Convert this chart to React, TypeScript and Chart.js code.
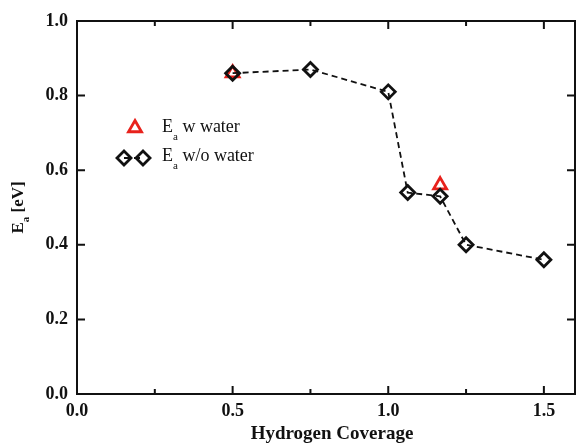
import React, { useEffect, useRef } from 'react';
import { Chart, registerables } from 'chart.js';
Chart.register(...registerables);

const coverageNoWater = [0.5, 0.75, 1.0, 1.0625, 1.1667, 1.25, 1.5];
const eaNoWater = [0.86, 0.87, 0.81, 0.54, 0.53, 0.4, 0.36];
const coverageWater = [0.5, 1.1667];
const eaWater = [0.86, 0.56];
const xMajorTicks = [0.0, 0.5, 1.0, 1.5];
const xMinorTicks = [0.25, 0.75, 1.25];
const yTicks = [0.0, 0.2, 0.4, 0.6, 0.8, 1.0];
const xTitle = 'Hydrogen Coverage';
const legendLabels = ['w water', 'w/o water'];

const FONT = '"Liberation Serif", "Times New Roman", serif';
const RED = '#e8221c';

function drawDiamond(ctx: CanvasRenderingContext2D, x: number, y: number, r: number) {
  ctx.beginPath();
  ctx.moveTo(x, y - r);
  ctx.lineTo(x + r, y);
  ctx.lineTo(x, y + r);
  ctx.lineTo(x - r, y);
  ctx.closePath();
  ctx.stroke();
}
function drawTriangle(ctx: CanvasRenderingContext2D, x: number, y: number, r: number) {
  ctx.beginPath();
  for (let i = 0; i < 3; i++) {
    const a = (i * 2 * Math.PI) / 3;
    const px = x + Math.sin(a) * r;
    const py = y - Math.cos(a) * r;
    if (i === 0) ctx.moveTo(px, py);
    else ctx.lineTo(px, py);
  }
  ctx.closePath();
  ctx.stroke();
}

const framePlugin = {
  id: 'frame',
  afterDraw(chart: any) {
    const ctx: CanvasRenderingContext2D = chart.ctx;
    const { left, right, top, bottom } = chart.chartArea;
    const xs = chart.scales.x;
    const ys = chart.scales.y;
    ctx.save();
    ctx.strokeStyle = '#111';
    ctx.lineWidth = 2;
    ctx.strokeRect(left, top, right - left, bottom - top);
    ctx.beginPath();
    xMajorTicks.forEach((v) => {
      const px = xs.getPixelForValue(v);
      ctx.moveTo(px, bottom); ctx.lineTo(px, bottom - 8);
      ctx.moveTo(px, top); ctx.lineTo(px, top + 8);
    });
    xMinorTicks.forEach((v) => {
      const px = xs.getPixelForValue(v);
      ctx.moveTo(px, bottom); ctx.lineTo(px, bottom - 5);
      ctx.moveTo(px, top); ctx.lineTo(px, top + 5);
    });
    yTicks.forEach((v) => {
      const py = ys.getPixelForValue(v);
      ctx.moveTo(left, py); ctx.lineTo(left + 8, py);
      ctx.moveTo(right, py); ctx.lineTo(right - 8, py);
    });
    ctx.stroke();

    // x title
    ctx.fillStyle = '#111';
    ctx.font = `bold 19px ${FONT}`;
    ctx.textAlign = 'center';
    ctx.textBaseline = 'alphabetic';
    ctx.fillText(xTitle, (left + right) / 2 + 6, 439);

    // y title with subscript
    ctx.save();
    ctx.translate(23, 207.5);
    ctx.rotate(-Math.PI / 2);
    ctx.textAlign = 'left';
    ctx.textBaseline = 'alphabetic';
    const big = `bold 17px ${FONT}`;
    const small = `bold 11px ${FONT}`;
    ctx.font = big;
    const wE = ctx.measureText('E').width;
    ctx.font = small;
    const wa = ctx.measureText('a').width;
    ctx.font = big;
    const wRest = ctx.measureText(' [eV]').width;
    const total = wE + wa + wRest;
    let cx = -total / 2;
    ctx.font = big;
    ctx.fillText('E', cx, 0);
    cx += wE;
    ctx.font = small;
    ctx.fillText('a', cx, 6);
    cx += wa;
    ctx.font = big;
    ctx.fillText(' [eV]', cx, 0);
    ctx.restore();

    // legend
    ctx.lineWidth = 2.8;
    ctx.strokeStyle = RED;
    drawTriangle(ctx, 135, 128, 7.5);
    ctx.strokeStyle = '#111';
    ctx.lineWidth = 1.8;
    ctx.setLineDash([6, 4]);
    ctx.beginPath();
    ctx.moveTo(124, 158); ctx.lineTo(143, 158);
    ctx.stroke();
    ctx.setLineDash([]);
    ctx.lineWidth = 2.8;
    drawDiamond(ctx, 124, 158, 7);
    drawDiamond(ctx, 143, 158, 7);

    ctx.fillStyle = '#111';
    ctx.textAlign = 'left';
    ctx.textBaseline = 'alphabetic';
    const lf = `18px ${FONT}`;
    const sf = `11px ${FONT}`;
    const rows = [132, 161];
    rows.forEach((by, i) => {
      let tx = 162;
      ctx.font = lf;
      ctx.fillText('E', tx, by);
      tx += ctx.measureText('E').width;
      ctx.font = sf;
      ctx.fillText('a', tx, by + 8);
      tx += ctx.measureText('a').width;
      ctx.font = lf;
      ctx.fillText(' ' + legendLabels[i], tx, by);
    });
    ctx.restore();
  },
};

export default function App() {
  const ref = useRef<HTMLCanvasElement>(null);
  useEffect(() => {
    if (!ref.current) return;
    const chart = new Chart(ref.current, {
      type: 'scatter',
      data: {
        datasets: [
          {
            label: 'Ea w/o water',
            data: coverageNoWater.map((x, i) => ({ x, y: eaNoWater[i] })),
            showLine: true,
            borderColor: '#111',
            borderWidth: 1.8,
            borderDash: [6, 4],
            pointStyle: 'rectRot',
            pointRadius: 7,
            pointBorderWidth: 2.8,
            pointBorderColor: '#111',
            pointBackgroundColor: 'rgba(0,0,0,0)',
            fill: false,
          },
          {
            label: 'Ea w water',
            data: coverageWater.map((x, i) => ({ x, y: eaWater[i] })),
            showLine: false,
            pointStyle: 'triangle',
            pointRadius: 7.5,
            pointBorderWidth: 2.8,
            pointBorderColor: RED,
            pointBackgroundColor: 'rgba(0,0,0,0)',
          },
        ],
      },
      options: {
        animation: false,
        responsive: false,
        maintainAspectRatio: false,
        layout: { autoPadding: false, padding: { top: 21, right: 1, left: 0, bottom: 0 } },
        plugins: { legend: { display: false }, tooltip: { enabled: false } },
        scales: {
          x: {
            type: 'linear',
            min: 0,
            max: 1.6,
            grid: { display: false, drawTicks: false },
            border: { display: false },
            afterBuildTicks: (s: any) => {
              s.ticks = xMajorTicks.map((v) => ({ value: v }));
            },
            afterFit: (s: any) => {
              s.height = 51;
              s.paddingLeft = 0;
              s.paddingRight = 0;
            },
            ticks: {
              padding: 7,
              maxRotation: 0,
              autoSkip: false,
              color: '#111',
              font: { family: FONT, size: 18, weight: 'bold' },
              callback: (v: any) => Number(v).toFixed(1),
            },
          },
          y: {
            type: 'linear',
            min: 0,
            max: 1.0,
            grid: { display: false, drawTicks: false },
            border: { display: false },
            afterBuildTicks: (s: any) => {
              s.ticks = yTicks.map((v) => ({ value: v }));
            },
            afterFit: (s: any) => {
              s.width = 77;
            },
            ticks: {
              padding: 9,
              autoSkip: false,
              color: '#111',
              font: { family: FONT, size: 18, weight: 'bold' },
              callback: (v: any) => Number(v).toFixed(1),
            },
          },
        },
      },
      plugins: [framePlugin],
    } as any);
    return () => chart.destroy();
  }, []);
  return (
    <div style={{ position: 'fixed', left: 0, top: 0, width: 576, height: 445, background: '#fff' }}>
      <canvas ref={ref} width={576} height={445} style={{ width: 576, height: 445, display: 'block' }} />
    </div>
  );
}
